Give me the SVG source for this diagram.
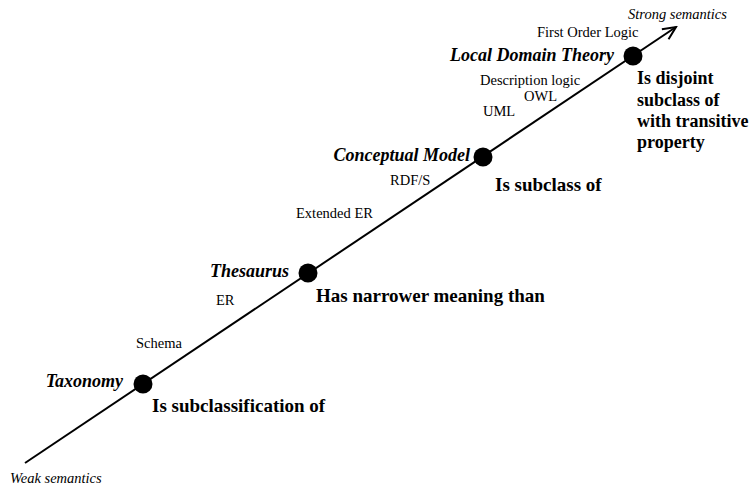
<svg xmlns="http://www.w3.org/2000/svg" width="750" height="486" viewBox="0 0 750 486">
<defs>
<style>
text{font-family:"Liberation Serif","Times New Roman",serif;fill:#000}
.lab{font-size:14.5px}
.it{font-size:14.5px;font-style:italic}
.node{font-size:18px;font-weight:bold;font-style:italic;text-anchor:end}
.rel{font-size:19px;font-weight:bold}
.rel2{font-size:18px;font-weight:bold}
.dot{fill:#000}
</style>
<marker id="arr" markerWidth="16" markerHeight="14" refX="14" refY="7" orient="auto" markerUnits="userSpaceOnUse">
<path d="M1,1 L14,7 L1,13" fill="none" stroke="#000" stroke-width="2"/>
</marker>
</defs>
<rect width="750" height="486" fill="#fff"/>
<g id="connectors">
<line x1="25" y1="463" x2="676" y2="27" stroke="#000" stroke-width="2" marker-end="url(#arr)"/>
</g>
<g id="taxonomy">
<circle class="dot" cx="143" cy="384" r="9.5"/>
<text class="node" x="123" y="387">Taxonomy</text>
<text class="rel" x="152" y="412">Is subclassification of</text>
</g>
<g id="thesaurus">
<circle class="dot" cx="308" cy="273" r="9.5"/>
<text class="node" x="289" y="277">Thesaurus</text>
<text class="rel" x="316" y="302">Has narrower meaning than</text>
</g>
<g id="conceptual-model">
<circle class="dot" cx="483" cy="157" r="9.5"/>
<text class="node" x="470" y="161">Conceptual Model</text>
<text class="rel" x="495" y="191">Is subclass of</text>
</g>
<g id="local-domain-theory">
<circle class="dot" cx="633" cy="56" r="9.5"/>
<text class="node" x="614" y="61">Local Domain Theory</text>
<text class="rel2" x="637" y="84">Is disjoint</text>
<text class="rel2" x="637" y="106">subclass of</text>
<text class="rel2" x="637" y="127">with transitive</text>
<text class="rel2" x="637" y="148">property</text>
</g>
<g id="labels">
<text class="it" x="628" y="19">Strong semantics</text>
<text class="it" x="10" y="483">Weak semantics</text>
<text class="lab" x="537" y="37">First Order Logic</text>
<text class="lab" x="480" y="85">Description logic</text>
<text class="lab" x="524" y="101">OWL</text>
<text class="lab" x="483" y="116">UML</text>
<text class="lab" x="390" y="185">RDF/S</text>
<text class="lab" x="296" y="218">Extended ER</text>
<text class="lab" x="216" y="305">ER</text>
<text class="lab" x="136" y="348">Schema</text>
</g>
</svg>
